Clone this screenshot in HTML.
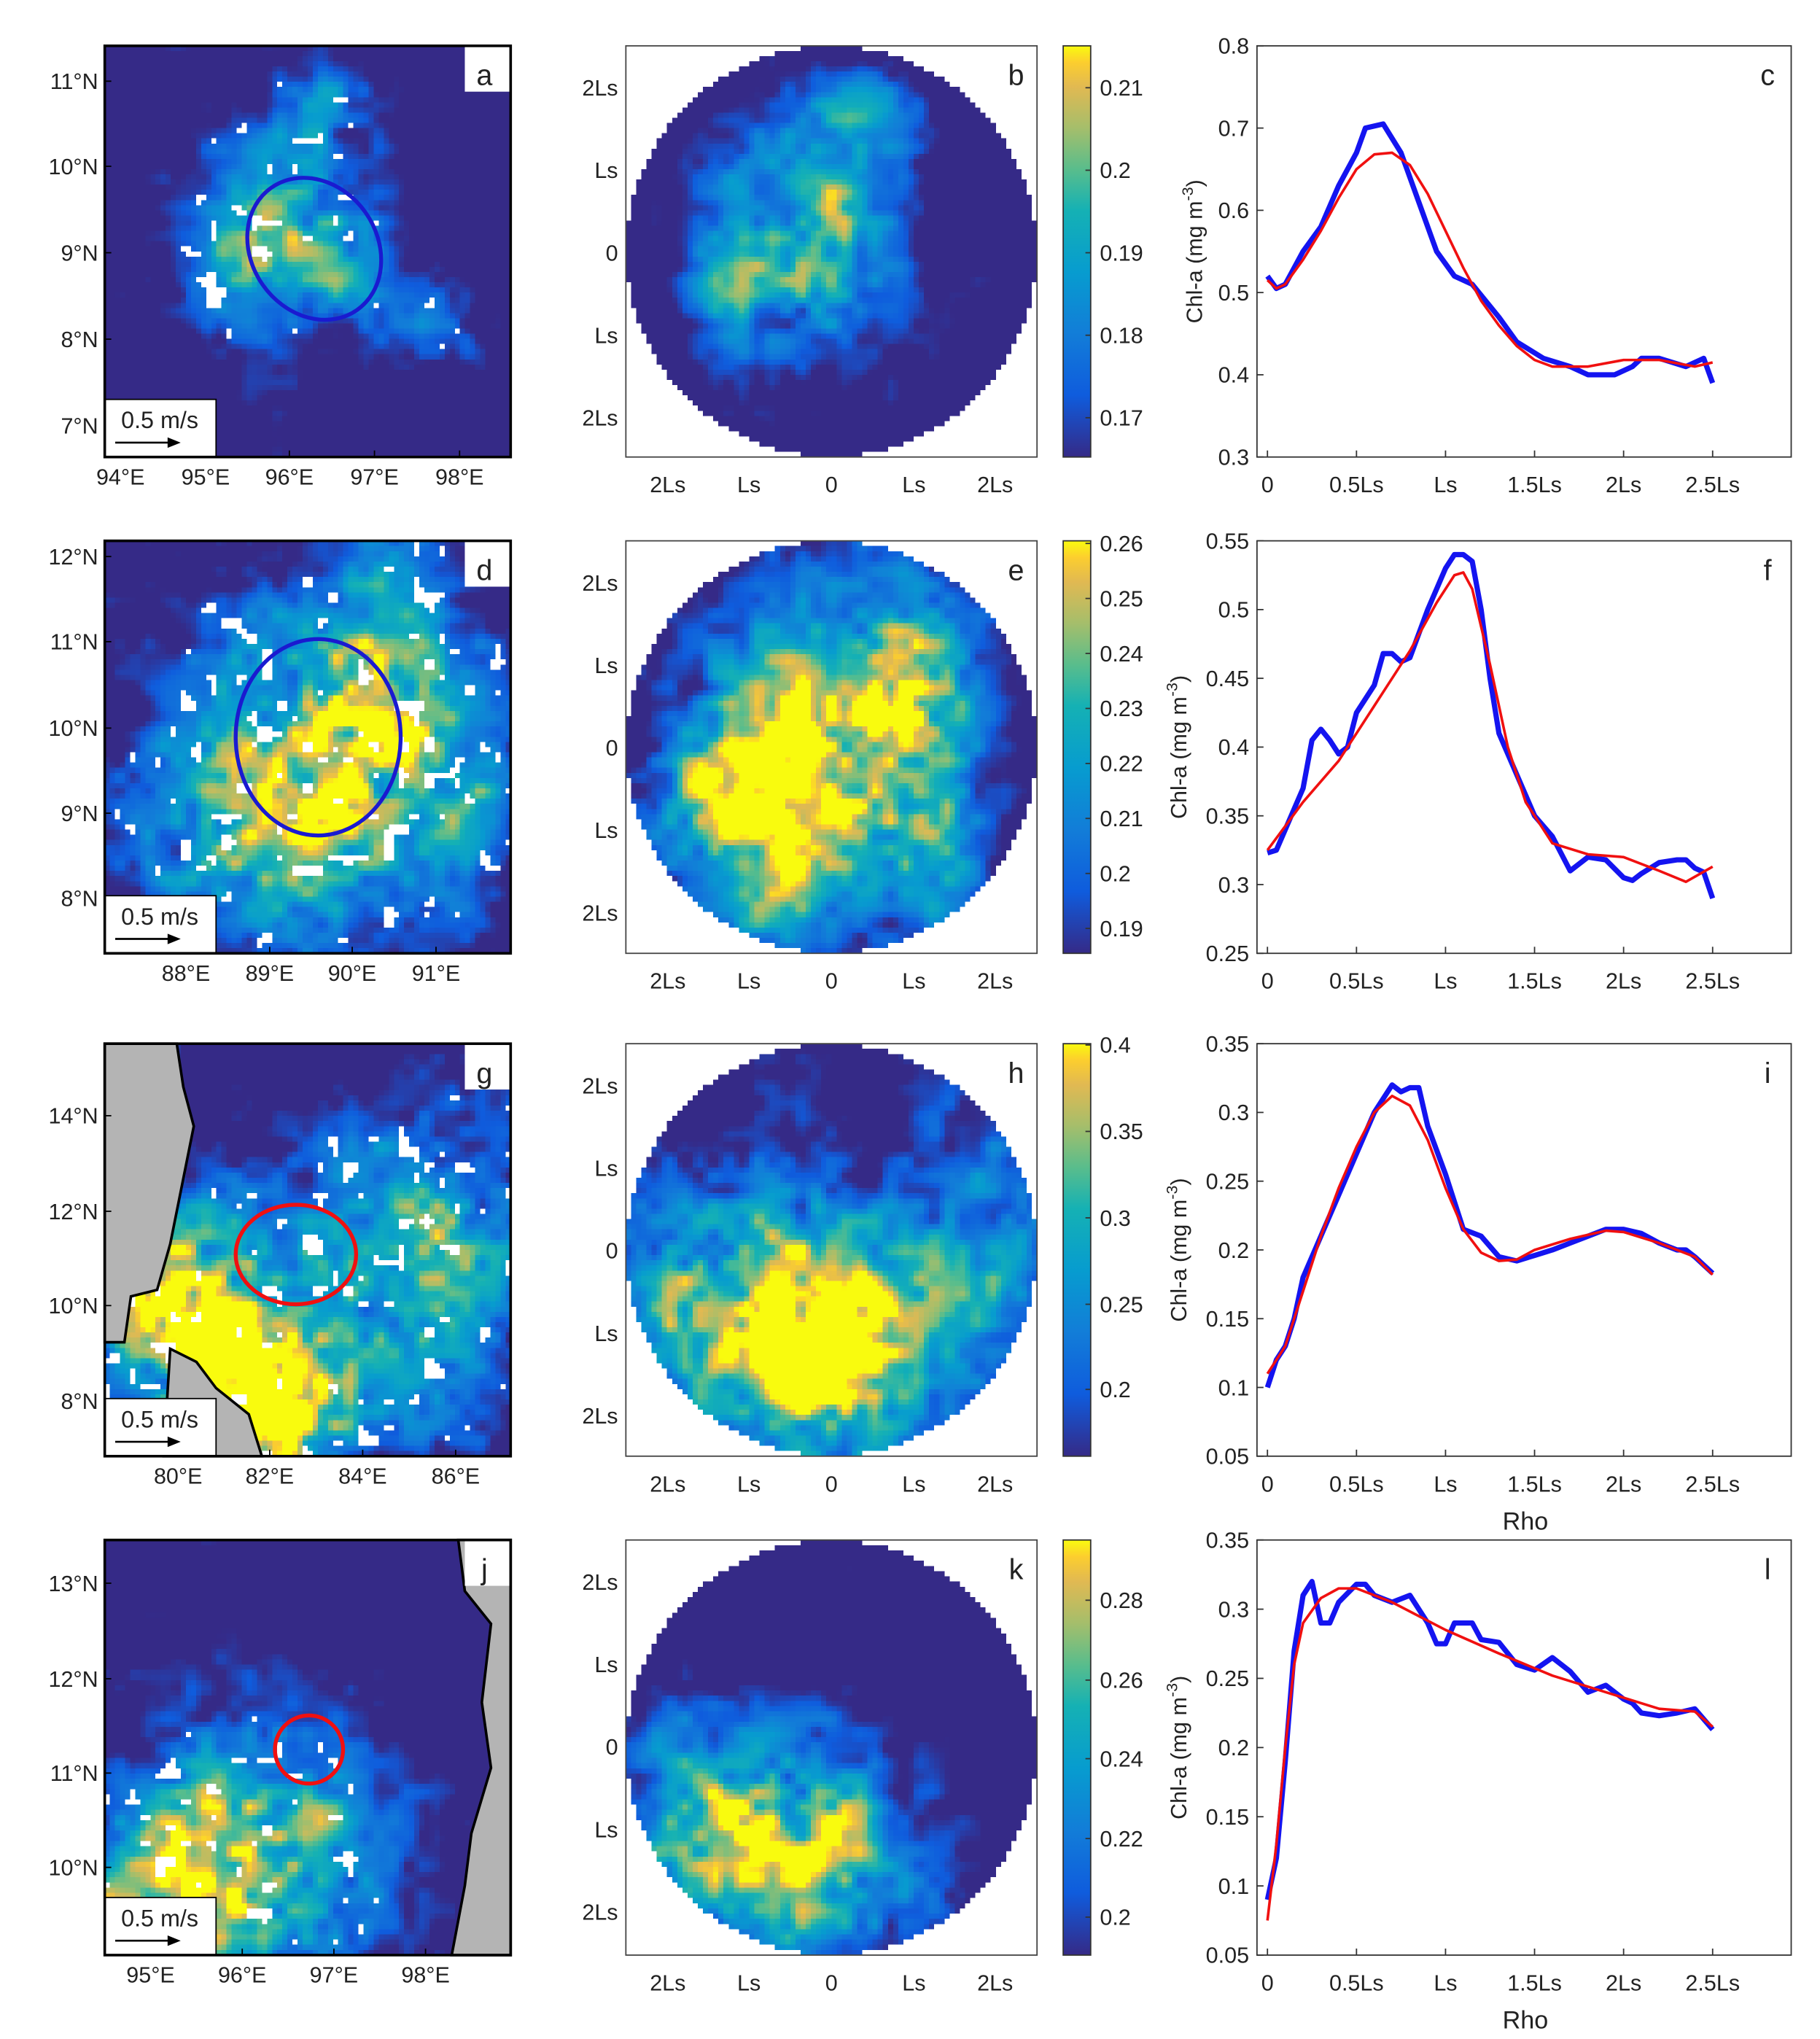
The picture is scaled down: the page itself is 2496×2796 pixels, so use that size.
<!DOCTYPE html>
<html><head><meta charset="utf-8">
<style>
html,body{margin:0;padding:0;background:#fff;width:2496px;height:2796px;overflow:hidden}
#wrap{position:absolute;left:0;top:0;width:1390px;height:1557px;transform:scale(1.795683);transform-origin:0 0}
canvas{position:absolute;image-rendering:pixelated}
svg{position:absolute;left:0;top:0}
text{font-family:"Liberation Sans",sans-serif;fill:#222}
</style></head>
<body><div id="wrap"></div>
<script>
const wrap=document.getElementById('wrap');
const NS='http://www.w3.org/2000/svg';
const svg=document.createElementNS(NS,'svg');
svg.setAttribute('width',1390);svg.setAttribute('height',1557);
function el(t,a,txt){const e=document.createElementNS(NS,t);for(const k in a)e.setAttribute(k,a[k]);if(txt!==undefined)e.textContent=txt;svg.appendChild(e);return e;}
const stops=[[0,[53,42,135]],[0.15,[15,92,221]],[0.3,[18,125,216]],[0.45,[7,156,207]],[0.6,[21,177,180]],[0.7,[89,189,140]],[0.8,[165,190,107]],[0.9,[225,185,82]],[0.96,[252,206,46]],[1,[249,251,14]]];
function parula(v){v=Math.max(0,Math.min(1,v));for(let i=1;i<stops.length;i++){if(v<=stops[i][0]){const a=stops[i-1],b=stops[i];const t=(v-a[0])/(b[0]-a[0]);return a[1].map((c,j)=>Math.round(c+(b[1][j]-c)*t));}}return stops[stops.length-1][1];}
function hash(x,y,s){let h=x*374761393+y*668265263+s*2147483647;h=(h^(h>>>13))*1274126177;h=h^(h>>>16);return ((h>>>0)%10000)/10000;}
function vnoise(x,y,s){const xi=Math.floor(x),yi=Math.floor(y),xf=x-xi,yf=y-yi;const u=xf*xf*(3-2*xf),w=yf*yf*(3-2*yf);
const a=hash(xi,yi,s),b=hash(xi+1,yi,s),c=hash(xi,yi+1,s),d=hash(xi+1,yi+1,s);return a+(b-a)*u+(c-a)*w+(a-b-c+d)*u*w;}
function fbm(x,y,s){return 0.35*vnoise(x*5,y*5,s)+0.3*vnoise(x*12,y*12,s+7)+0.35*vnoise(x*28,y*28,s+13);}
function field(x0,y0,w,h,blobs,seed,circle,white){
 const c=document.createElement('canvas');const N=80;c.width=N;c.height=N;
 c.style.left=x0+'px';c.style.top=y0+'px';c.style.width=w+'px';c.style.height=h+'px';
 const ctx=c.getContext('2d');const img=ctx.createImageData(N,N);
 for(let j=0;j<N;j++)for(let i=0;i<N;i++){const x=(i+0.5)/N,y=(j+0.5)/N;let v=-0.1;
  for(const b of blobs){const dx=(x-b[0])/b[2],dy=(y-b[1])/b[3];v+=b[4]*Math.exp(-(dx*dx+dy*dy));}
  const n=fbm(x,y,seed);v=v*(0.3+1.4*n)+0.5*(n-0.5);
  let col=parula(v*1.15);
  if(circle){const dx=x-0.5,dy=y-0.5;if(dx*dx+dy*dy>0.25)col=[255,255,255];}
  if(white){const m=vnoise(x*30,y*30,seed+50);if(m>white[0]&&v>white[1])col=[255,255,255];}
  const k=(j*N+i)*4;img.data[k]=col[0];img.data[k+1]=col[1];img.data[k+2]=col[2];img.data[k+3]=255;}
 ctx.putImageData(img,0,0);wrap.appendChild(c);}
const rows=[[35,349],[413,728],[797,1112],[1176,1493]];
const mapB=[
 [[.5,.45,.18,.2,.7],[.55,.15,.12,.1,.4],[.3,.5,.1,.2,.3],[.8,.7,.15,.1,.3]],
 [[.5,.55,.3,.35,1.0],[.7,.3,.15,.3,.5],[.9,.6,.1,.3,.4],[.2,.8,.2,.2,.3]],
 [[.25,.65,.35,.25,1.0],[.4,.9,.2,.2,.9],[.85,.4,.25,.4,.35],[.75,.7,.3,.4,.3]],
 [[.35,.75,.3,.3,.9],[.15,.9,.2,.15,.6]]];
const cirB=[
 [[.45,.45,.2,.25,.7],[.3,.6,.12,.12,.4],[.6,.15,.15,.1,.3]],
 [[.35,.6,.25,.35,1.1],[.7,.6,.15,.3,.8],[.65,.25,.2,.2,.5]],
 [[.3,.65,.3,.3,1.0],[.5,.75,.15,.2,.6],[.85,.4,.2,.3,.35],[.75,.75,.3,.4,.3]],
 [[.4,.75,.3,.25,.9],[.2,.6,.15,.2,.5]]];
rows.forEach((r,i)=>{field(80,r[0],310,r[1]-r[0],mapB[i],i*3+1,false,[0.82,0.1]);field(478,r[0],314,r[1]-r[0],cirB[i],i*3+2,true);});
rows.forEach(r=>{const g=el('linearGradient',{id:'cb'+r[0],x1:0,y1:1,x2:0,y2:0});stops.forEach(s=>{const st=document.createElementNS(NS,'stop');st.setAttribute('offset',s[0]);st.setAttribute('stop-color','rgb('+s[1].join(',')+')');g.appendChild(st);});
 el('rect',{x:812,y:r[0],width:21,height:r[1]-r[0],fill:'url(#cb'+r[0]+')',stroke:'#333','stroke-width':1});});
el('polygon',{points:'80,797 135,797 140,830 148,860 140,900 130,950 120,985 100,990 95,1025 80,1025',fill:'#b4b4b4',stroke:'#000','stroke-width':2});
el('polygon',{points:'125,1112 130,1030 150,1040 165,1060 190,1080 200,1112',fill:'#b4b4b4',stroke:'#000','stroke-width':2});
el('polygon',{points:'350,1176 390,1176 390,1493 345,1493 355,1440 360,1400 375,1350 368,1300 375,1240 355,1215',fill:'#b4b4b4',stroke:'#000','stroke-width':2});
el('ellipse',{cx:240,cy:190,rx:48,ry:57,transform:'rotate(-35 240 190)',fill:'none',stroke:'#1a1ad0','stroke-width':3});
el('ellipse',{cx:243,cy:563,rx:63,ry:75,fill:'none',stroke:'#1a1ad0','stroke-width':3});
el('ellipse',{cx:226,cy:958,rx:46,ry:38,fill:'none',stroke:'#f01010','stroke-width':3});
el('circle',{cx:236,cy:1336,r:26,fill:'none',stroke:'#f01010','stroke-width':3});
const fs=17;
function T(x,y,s,anc,size){el('text',{x:x,y:y,'text-anchor':anc||'middle','font-size':size||fs},s);}
const maps=[
 {lat:[['11°N',62],['10°N',127],['9°N',193],['8°N',259],['7°N',325]],lon:[['94°E',92],['95°E',157],['96°E',221],['97°E',286],['98°E',351]],l:'a'},
 {lat:[['12°N',425],['11°N',490],['10°N',556],['9°N',621],['8°N',686]],lon:[['88°E',142],['89°E',206],['90°E',269],['91°E',333]],l:'d'},
 {lat:[['14°N',852],['12°N',925],['10°N',997],['8°N',1070]],lon:[['80°E',136],['82°E',206],['84°E',277],['86°E',348]],l:'g'},
 {lat:[['13°N',1209],['12°N',1282],['11°N',1354],['10°N',1426]],lon:[['95°E',115],['96°E',185],['97°E',255],['98°E',325]],l:'j'}];
maps.forEach((m,i)=>{const r=rows[i];
 m.lat.forEach(a=>{T(75,a[1]+6,a[0],'end');el('line',{x1:80,y1:a[1],x2:85,y2:a[1],stroke:'#000'});});
 m.lon.forEach(a=>{T(a[1],r[1]+21,a[0]);el('line',{x1:a[1],y1:r[1],x2:a[1],y2:r[1]-5,stroke:'#000'});});
 el('rect',{x:80,y:r[1]-44,width:85,height:44,fill:'#fff',stroke:'#000','stroke-width':1});
 T(122,r[1]-22,'0.5 m/s','middle',18);
 el('line',{x1:88,y1:r[1]-11,x2:130,y2:r[1]-11,stroke:'#000','stroke-width':1.5});
 el('polygon',{points:`138,${r[1]-11} 128,${r[1]-15} 128,${r[1]-7}`,fill:'#000'});
 el('rect',{x:355,y:r[0],width:35,height:35,fill:'#fff'});
 T(370,r[0]+30,m.l,'middle',22);
 el('rect',{x:80,y:r[0],width:310,height:r[1]-r[0],fill:'none',stroke:'#000','stroke-width':2});});
const cl=['b','e','h','k'];
rows.forEach((r,i)=>{el('rect',{x:478,y:r[0],width:314,height:r[1]-r[0],fill:'none',stroke:'#444','stroke-width':1});
 [['2Ls',32],['Ls',95],['0',158],['Ls',221],['2Ls',284]].forEach(a=>T(472,r[0]+a[1]+6,a[0],'end'));
 [['2Ls',510],['Ls',572],['0',635],['Ls',698],['2Ls',760]].forEach(a=>T(a[1],r[1]+27,a[0]));
 T(776,r[0]+30,cl[i],'middle',22);});
const cbt=[[['0.21',67],['0.2',130],['0.19',193],['0.18',256],['0.17',319]],
 [['0.26',415],['0.25',457],['0.24',499],['0.23',541],['0.22',583],['0.21',625],['0.2',667],['0.19',709]],
 [['0.4',798],['0.35',864],['0.3',930],['0.25',996],['0.2',1061]],
 [['0.28',1222],['0.26',1283],['0.24',1343],['0.22',1404],['0.2',1464]]];
cbt.forEach(c=>c.forEach(a=>{T(840,a[1]+6,a[0],'start');el('line',{x1:829,y1:a[1],x2:833,y2:a[1],stroke:'#333'});}));
const plots=[
 {lo:.3,hi:.8,st:.1,l:'c',
 b:[[0,.52],[.05,.505],[.1,.51],[.2,.55],[.3,.58],[.4,.63],[.5,.67],[.55,.70],[.65,.705],[.75,.67],[.85,.61],[.95,.55],[1.05,.52],[1.15,.51],[1.3,.47],[1.4,.44],[1.55,.42],[1.7,.41],[1.8,.40],[1.95,.40],[2.05,.41],[2.1,.42],[2.2,.42],[2.35,.41],[2.45,.42],[2.5,.39]],
 r:[[0,.515],[.05,.505],[.1,.51],[.2,.54],[.3,.575],[.4,.615],[.5,.65],[.6,.668],[.7,.67],[.8,.655],[.9,.62],[1.0,.575],[1.1,.53],[1.2,.49],[1.3,.46],[1.4,.435],[1.5,.418],[1.6,.41],[1.8,.41],[2.0,.418],[2.2,.418],[2.4,.41],[2.5,.415]]},
 {lo:.25,hi:.55,st:.05,l:'f',
 b:[[0,.323],[.05,.325],[.1,.34],[.2,.37],[.25,.405],[.3,.413],[.35,.405],[.4,.395],[.45,.40],[.5,.425],[.6,.445],[.65,.468],[.7,.468],[.75,.462],[.8,.465],[.9,.5],[1.0,.53],[1.05,.54],[1.1,.54],[1.15,.535],[1.2,.50],[1.25,.45],[1.3,.41],[1.4,.38],[1.45,.365],[1.5,.35],[1.6,.335],[1.7,.31],[1.8,.32],[1.9,.318],[2.0,.305],[2.05,.303],[2.1,.308],[2.2,.316],[2.3,.318],[2.35,.318],[2.4,.312],[2.45,.309],[2.5,.29]],
 r:[[0,.325],[.2,.36],[.4,.39],[.6,.43],[.8,.47],[.95,.505],[1.05,.525],[1.1,.527],[1.15,.515],[1.25,.46],[1.35,.4],[1.45,.36],[1.6,.33],[1.8,.322],[2.0,.32],[2.2,.31],[2.35,.302],[2.5,.313]]},
 {lo:.05,hi:.35,st:.05,l:'i',rho:1,
 b:[[0,.1],[.05,.12],[.1,.13],[.15,.15],[.2,.18],[.3,.21],[.4,.24],[.5,.27],[.6,.30],[.7,.32],[.75,.315],[.8,.318],[.85,.318],[.9,.29],[1.0,.255],[1.1,.215],[1.2,.21],[1.3,.195],[1.4,.192],[1.5,.196],[1.6,.2],[1.7,.205],[1.8,.21],[1.9,.215],[2.0,.215],[2.1,.212],[2.2,.205],[2.3,.20],[2.35,.20],[2.4,.195],[2.5,.183]],
 r:[[0,.11],[.1,.13],[.2,.17],[.3,.21],[.4,.245],[.5,.275],[.6,.3],[.7,.312],[.8,.305],[.9,.28],[1.0,.245],[1.1,.215],[1.2,.198],[1.3,.192],[1.4,.193],[1.5,.2],[1.7,.208],[1.9,.214],[2.0,.213],[2.2,.205],[2.4,.195],[2.5,.182]]},
 {lo:.05,hi:.35,st:.05,l:'l',rho:1,
 b:[[0,.09],[.05,.12],[.1,.19],[.15,.27],[.2,.31],[.25,.32],[.3,.29],[.35,.29],[.4,.305],[.5,.318],[.55,.318],[.6,.31],[.7,.305],[.8,.31],[.9,.29],[.95,.275],[1.0,.275],[1.05,.29],[1.15,.29],[1.2,.278],[1.3,.276],[1.4,.26],[1.5,.256],[1.6,.265],[1.7,.255],[1.8,.24],[1.9,.245],[2.0,.235],[2.05,.232],[2.1,.225],[2.2,.223],[2.3,.225],[2.4,.228],[2.5,.213]],
 r:[[0,.075],[.05,.13],[.1,.2],[.15,.26],[.2,.29],[.3,.308],[.4,.315],[.5,.315],[.7,.305],[1.0,.285],[1.3,.268],[1.6,.252],[1.9,.24],[2.2,.228],[2.4,.226],[2.5,.215]]}];
plots.forEach((p,i)=>{const r=rows[i];const X=v=>968+136*v;const Y=v=>r[1]-(v-p.lo)/(p.hi-p.lo)*(r[1]-r[0]);
 el('rect',{x:960,y:r[0],width:408,height:r[1]-r[0],fill:'#fff',stroke:'#333','stroke-width':1});
 for(let v=p.lo;v<=p.hi+1e-6;v+=p.st){const y=Y(v);el('line',{x1:960,y1:y,x2:965,y2:y,stroke:'#333'});
  T(954,y+6,String(+v.toFixed(2)),'end');}
 ['0','0.5Ls','Ls','1.5Ls','2Ls','2.5Ls'].forEach((s,k)=>{const x=X(k*.5);el('line',{x1:x,y1:r[1],x2:x,y2:r[1]-5,stroke:'#333'});T(x,r[1]+27,s);});
 const yc=(r[0]+r[1])/2;
 const t=el('text',{x:0,y:0,'font-size':17,'text-anchor':'middle',transform:`translate(${i==0?918:906} ${yc}) rotate(-90)`},'Chl-a (mg m');
 const ts=document.createElementNS(NS,'tspan');ts.setAttribute('dy','-7');ts.setAttribute('font-size','12');ts.textContent='-3';t.appendChild(ts);
 const t2=document.createElementNS(NS,'tspan');t2.setAttribute('dy','7');t2.textContent=')';t.appendChild(t2);
 el('polyline',{points:p.b.map(a=>X(a[0])+','+Y(a[1])).join(' '),fill:'none',stroke:'#1414f0','stroke-width':4,'stroke-linejoin':'round'});
 el('polyline',{points:p.r.map(a=>X(a[0])+','+Y(a[1])).join(' '),fill:'none',stroke:'#f01010','stroke-width':2,'stroke-linejoin':'round'});
 T(1350,r[0]+30,p.l,'middle',22);
 if(p.rho)T(1165,r[1]+56,'Rho','middle',19);});
wrap.appendChild(svg);
</script></body></html>
